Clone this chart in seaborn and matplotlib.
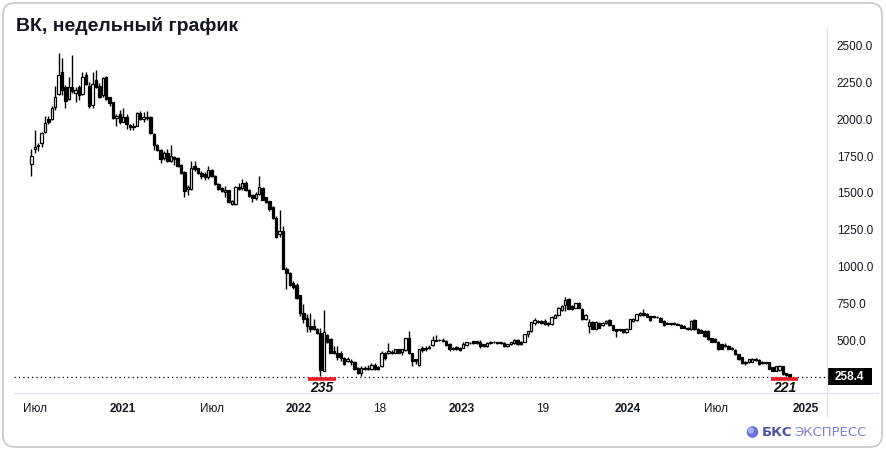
import numpy as np
import pandas as pd
import matplotlib.pyplot as plt
import matplotlib.patches as mpatches
from matplotlib.lines import Line2D
from matplotlib.transforms import blended_transform_factory
import seaborn as sns

# недельные свечи ВК (руб.)
opens = [1698, 1797, 1815, 1838, 1910, 1999, 1999, 2080, 2170, 2316,
         2219, 2134, 2215, 2174, 2215, 2170, 2298, 2224, 2096, 2264,
         2224, 2163, 2287, 2148, 2112, 2006, 2035, 1983, 2013, 1961,
         1945, 1954, 2040, 1999, 2013, 2013, 1900, 1826, 1793, 1736,
         1770, 1714, 1743, 1736, 1691, 1640, 1527, 1527, 1680, 1669,
         1635, 1631, 1608, 1658, 1617, 1563, 1534, 1505, 1518, 1426,
         1426, 1541, 1534, 1568, 1523, 1489, 1467, 1496, 1534, 1474,
         1444, 1406, 1332, 1220, 1242, 988, 961, 894, 876, 809,
         692, 658, 598, 598, 584, 557, 299, 539, 512, 434,
         418, 418, 386, 366, 366, 359, 317, 283, 317, 310,
         310, 337, 326, 328, 418, 422, 425, 422, 445, 427,
         440, 517, 418, 377, 337, 456, 456, 454, 472, 508,
         505, 508, 501, 478, 456, 460, 456, 456, 472, 485,
         497, 497, 490, 478, 463, 488, 490, 490, 488, 485,
         463, 478, 485, 508, 494, 494, 546, 566, 624, 630,
         636, 636, 624, 615, 658, 674, 710, 741, 782, 737,
         725, 759, 719, 651, 602, 629, 584, 624, 606, 620,
         642, 606, 579, 579, 579, 561, 584, 636, 642, 674,
         692, 680, 669, 662, 665, 658, 636, 618, 618, 615,
         615, 606, 602, 591, 579, 642, 584, 575, 568, 568,
         517, 512, 494, 478, 470, 467, 456, 440, 411, 389,
         359, 355, 359, 377, 373, 359, 352, 355, 321, 299,
         305, 330, 283, 276]
highs = [1797, 1928, 1838, 1914, 2022, 2022, 2085, 2224, 2444, 2410,
         2231, 2282, 2433, 2219, 2231, 2316, 2316, 2253, 2316, 2332,
         2242, 2282, 2291, 2150, 2118, 2035, 2062, 2073, 2035, 1968,
         1972, 2044, 2051, 2044, 2051, 2017, 1905, 1830, 1797, 1782,
         1797, 1826, 1752, 1743, 1695, 1647, 1557, 1714, 1718, 1672,
         1647, 1640, 1680, 1662, 1624, 1568, 1541, 1550, 1521, 1456,
         1545, 1568, 1595, 1579, 1527, 1496, 1505, 1617, 1541, 1476,
         1446, 1411, 1343, 1384, 1276, 1002, 966, 905, 894, 812,
         748, 681, 687, 651, 591, 591, 710, 546, 523, 463,
         467, 434, 395, 395, 377, 366, 321, 332, 328, 341,
         350, 350, 332, 434, 427, 485, 440, 449, 449, 449,
         520, 566, 422, 380, 449, 467, 467, 472, 535, 539,
         512, 517, 505, 485, 460, 465, 460, 490, 494, 492,
         501, 501, 508, 481, 490, 501, 497, 494, 494, 490,
         481, 494, 512, 512, 497, 550, 568, 629, 658, 645,
         642, 647, 629, 669, 680, 728, 742, 800, 790, 745,
         760, 765, 722, 680, 647, 636, 634, 630, 628, 642,
         648, 610, 584, 584, 584, 590, 651, 658, 684, 698,
         719, 686, 672, 670, 670, 662, 640, 626, 624, 626,
         620, 612, 606, 596, 642, 646, 590, 580, 572, 572,
         522, 520, 498, 482, 485, 472, 460, 444, 414, 392,
         362, 380, 382, 385, 378, 362, 360, 358, 325, 334,
         336, 334, 286, 280]
lows = [1618, 1770, 1782, 1811, 1905, 1968, 1995, 2058, 2163, 2163,
        2073, 2130, 2174, 2118, 2130, 2163, 2231, 2073, 2073, 2208,
        2141, 2152, 2130, 2085, 1999, 1954, 1968, 1977, 1932, 1923,
        1923, 1950, 1990, 1983, 1995, 1900, 1793, 1782, 1703, 1721,
        1707, 1707, 1691, 1676, 1631, 1474, 1489, 1523, 1647, 1631,
        1595, 1590, 1595, 1608, 1557, 1518, 1505, 1474, 1434, 1422,
        1422, 1523, 1523, 1512, 1474, 1438, 1456, 1489, 1451, 1430,
        1377, 1325, 1197, 1204, 984, 854, 872, 854, 786, 669,
        624, 562, 562, 575, 546, 262, 299, 485, 418, 411,
        373, 366, 337, 360, 337, 306, 277, 265, 306, 301,
        305, 306, 306, 321, 373, 411, 411, 418, 418, 404,
        434, 411, 328, 345, 334, 427, 434, 445, 463, 497,
        497, 490, 467, 434, 440, 440, 434, 452, 467, 480,
        478, 480, 456, 460, 460, 483, 485, 483, 483, 460,
        458, 474, 481, 474, 472, 490, 530, 560, 606, 620,
        612, 607, 600, 610, 652, 668, 705, 703, 715, 712,
        720, 720, 645, 645, 557, 578, 578, 585, 600, 615,
        600, 570, 530, 570, 555, 555, 580, 630, 638, 670,
        670, 660, 638, 656, 655, 625, 600, 612, 610, 610,
        606, 586, 586, 575, 575, 575, 552, 552, 530, 505,
        490, 490, 440, 445, 460, 445, 440, 408, 373, 345,
        335, 350, 355, 366, 340, 346, 346, 310, 295, 295,
        300, 272, 265, 250]
closes = [1752, 1811, 1826, 1905, 1972, 1977, 2073, 2148, 2298, 2197,
          2125, 2215, 2192, 2197, 2163, 2282, 2237, 2085, 2237, 2219,
          2148, 2275, 2134, 2107, 2006, 2017, 1977, 2013, 1968, 1945,
          1954, 2040, 1999, 2013, 2004, 1905, 1826, 1788, 1730, 1770,
          1714, 1752, 1730, 1680, 1635, 1512, 1541, 1669, 1662, 1635,
          1617, 1608, 1658, 1617, 1563, 1527, 1512, 1518, 1438, 1444,
          1541, 1527, 1568, 1518, 1478, 1467, 1496, 1541, 1456, 1436,
          1393, 1332, 1204, 1242, 988, 961, 876, 867, 793, 687,
          651, 598, 584, 580, 557, 306, 562, 494, 422, 418,
          395, 382, 344, 378, 355, 314, 283, 317, 310, 317,
          337, 314, 314, 418, 382, 434, 422, 445, 422, 445,
          517, 422, 366, 366, 445, 440, 445, 458, 508, 501,
          508, 501, 472, 445, 445, 445, 440, 478, 490, 488,
          485, 485, 463, 463, 485, 490, 494, 488, 490, 463,
          478, 490, 508, 478, 478, 546, 566, 626, 642, 636,
          620, 613, 613, 665, 674, 725, 737, 777, 719, 719,
          755, 725, 651, 674, 629, 584, 629, 591, 624, 636,
          606, 575, 568, 575, 561, 584, 647, 651, 680, 692,
          674, 665, 642, 665, 660, 629, 606, 620, 615, 620,
          611, 591, 591, 579, 636, 579, 557, 557, 535, 512,
          494, 494, 449, 449, 467, 449, 445, 411, 377, 350,
          350, 377, 377, 370, 344, 350, 355, 314, 299, 330,
          332, 276, 270, 258.4]

# подписи оси времени (позиция = номер недельной свечи)
tick_pos = [1.1, 26.9, 53.0, 78.5, 102.5, 126.6, 150.3, 175.3, 201.4, 227.7]
tick_labels = ['Июл', '2021', 'Июл', '2022', '18', '2023', '19', '2024', 'Июл', '2025']

# отмеченные минимумы
min_pos = [85.5, 221.5]
min_labels = ['235', '221']

df = pd.DataFrame({'open': opens, 'high': highs, 'low': lows, 'close': closes})
df['bar'] = np.arange(len(df))
df['up'] = df['close'] >= df['open']
df['bottom'] = df[['open', 'close']].min(axis=1)
df['body'] = (df['close'] - df['open']).abs().clip(lower=4)

sns.set_theme(style='white')
plt.rcParams['font.family'] = ['Liberation Sans', 'DejaVu Sans']

W, H = 887, 453
fig = plt.figure(figsize=(W / 100, H / 100), dpi=100)
fig.patch.set_facecolor('white')

# рамка карточки
card = mpatches.FancyBboxPatch((0.03, 0.06), 8.79, 4.44,
                               boxstyle='round,pad=0,rounding_size=0.12',
                               transform=fig.dpi_scale_trans,
                               fc='none', ec='#c8c8c8', lw=1.2)
fig.add_artist(card)

ax = fig.add_axes([14 / W, 60 / H, 813 / W, 365 / H])
ax.set_facecolor('white')

# свечи
ax.vlines(df['bar'], df['low'], df['high'], color='black', lw=1.0, zorder=2)
ax.bar(df['bar'], df['body'], bottom=df['bottom'], width=0.72,
       color=np.where(df['up'], 'white', 'black'), edgecolor='black',
       linewidth=0.9, zorder=3)

ax.set_xlim(-5.1, 234)
ax.set_ylim(148.6, 2614.9)

# линия последней цены
last = closes[-1]
ax.axhline(last, color='black', lw=0.9, ls=(0, (1, 2.5)), zorder=1)
tr = blended_transform_factory(ax.transAxes, ax.transData)
ax.add_patch(mpatches.Rectangle((1.0, last - 57), 45 / 813, 114, transform=tr,
                                fc='black', ec='none', clip_on=False, zorder=5))
ax.text(1.0 + 22.5 / 813, last, f'{last:.1f}', transform=tr, ha='center', va='center',
        color='white', fontsize=8.5, fontweight='bold', zorder=6, clip_on=False)

# минимумы
for pos, lbl in zip(min_pos, min_labels):
    ax.hlines(240, pos - 4.1, pos + 4.1, color='#ee1c25', lw=2.6, zorder=4, clip_on=False)
    ax.text(pos, 183, lbl, ha='center', va='center', fontsize=10,
            fontweight='bold', style='italic', color='#111111', clip_on=False)

# оси
ax.yaxis.tick_right()
ax.set_yticks(range(500, 2501, 250))
ax.set_yticklabels([f'{v:.1f}' for v in range(500, 2501, 250)])
ax.tick_params(axis='y', length=0, pad=7, labelsize=8.5, labelcolor='#131722')
ax.set_xticks(tick_pos)
ax.set_xticklabels(tick_labels)
ax.tick_params(axis='x', length=0, pad=7, labelsize=8.5, labelcolor='#131722')
for t in ax.get_xticklabels():
    if t.get_text().isdigit() and len(t.get_text()) == 4:
        t.set_fontweight('bold')
ax.grid(False)
for s in ax.spines.values():
    s.set_visible(False)

fig.add_artist(Line2D([14 / W, 878 / W], [60 / H, 60 / H], color='#e0e3eb', lw=1))
fig.add_artist(Line2D([827 / W, 827 / W], [(H - 417) / H, (H - 28) / H], color='#e0e3eb', lw=1))

# заголовок
fig.text(16 / W, 1 - 26 / H, 'ВК, недельный график', fontsize=14, fontweight='bold',
         va='center', ha='left', color='#131722')

# логотип
fig.add_artist(mpatches.Circle((7.525, 0.21), 0.058, transform=fig.dpi_scale_trans,
                               fc='#6a6ed6', ec='none'))
fig.add_artist(mpatches.Circle((7.51, 0.225), 0.032, transform=fig.dpi_scale_trans,
                               fc='#a9acf2', ec='none'))
fig.text(762 / W, 21 / H, 'БКС', fontsize=9.5, fontweight='bold', color='#4b50a5',
         va='center', ha='left', family='DejaVu Sans')
fig.text(794 / W, 21 / H, 'ЭКСПРЕСС', fontsize=9.5, color='#7b7fcf',
         va='center', ha='left', family='DejaVu Sans')

fig.savefig('out.png', dpi=100)
